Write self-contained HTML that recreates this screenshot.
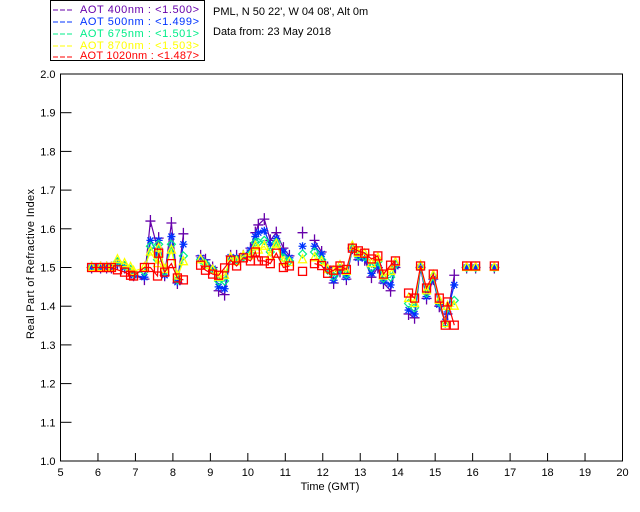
<!DOCTYPE html>
<html><head><meta charset="utf-8"><style>
body{margin:0;background:#fff;width:640px;height:512px;overflow:hidden}
svg{display:block;font-family:"Liberation Sans","DejaVu Sans",sans-serif}
</style></head><body>
<svg id="chart" width="640" height="512" viewBox="0 0 640 512" xmlns="http://www.w3.org/2000/svg">
<rect x="60.5" y="74" width="562" height="387" fill="none" stroke="#000" stroke-width="1"/>
<g id="axes" font-size="11"></g>
<text x="330" y="490" font-size="11" text-anchor="middle">Time (GMT)</text>
<text transform="translate(34,264) rotate(-90)" font-size="11" text-anchor="middle" textLength="150">Real Part of Refractive Index</text>
<g>
<rect x="50.5" y="0.5" width="154" height="60" fill="#fff" stroke="#000"/>
<g fill="#6600aa"><line x1="53" y1="10" x2="73" y2="10" stroke="#6600aa" stroke-dasharray="5,2"/><text x="80" y="13" font-size="11" textLength="119">AOT  400nm : &lt;1.500&gt;</text></g>
<g fill="#0033ff"><line x1="53" y1="22" x2="73" y2="22" stroke="#0033ff" stroke-dasharray="5,2"/><text x="80" y="25" font-size="11" textLength="119">AOT  500nm : &lt;1.499&gt;</text></g>
<g fill="#00ee88"><line x1="53" y1="34" x2="73" y2="34" stroke="#00ee88" stroke-dasharray="5,2"/><text x="80" y="37" font-size="11" textLength="119">AOT  675nm : &lt;1.501&gt;</text></g>
<g fill="#ffff00"><line x1="53" y1="46" x2="73" y2="46" stroke="#ffff00" stroke-dasharray="5,2"/><text x="80" y="49" font-size="11" textLength="119">AOT  870nm : &lt;1.503&gt;</text></g>
<g fill="#ff0000"><line x1="53" y1="57" x2="73" y2="57" stroke="#ff0000" stroke-dasharray="5,2"/><text x="80" y="59" font-size="11" textLength="119">AOT 1020nm : &lt;1.487&gt;</text></g>
</g>
<text x="213" y="15" font-size="11">PML, N 50 22', W 04 08', Alt 0m</text>
<text x="213" y="35" font-size="11">Data from: 23 May 2018</text>
<g id="series"></g>
</svg>
<script>
const times=[5.83,6.07,6.23,6.36,6.52,6.71,6.87,6.95,7.24,7.40,7.59,7.62,7.78,7.96,8.12,8.28,8.74,8.87,9.06,9.22,9.38,9.54,9.70,9.88,10.07,10.20,10.28,10.44,10.60,10.76,10.95,11.11,11.46,11.78,11.97,12.13,12.29,12.46,12.63,12.79,12.95,13.12,13.30,13.47,13.62,13.81,13.94,14.29,14.45,14.61,14.77,14.95,15.11,15.27,15.33,15.51,15.84,16.08,16.58];
const v400=[1.50,1.50,1.50,1.50,1.51,1.50,1.49,1.48,1.47,1.62,1.55,1.576,1.48,1.615,1.46,1.587,1.53,1.52,1.50,1.44,1.43,1.53,1.53,1.53,1.55,1.59,1.61,1.625,1.57,1.59,1.55,1.53,1.59,1.57,1.54,1.50,1.46,1.49,1.47,1.55,1.52,1.52,1.475,1.50,1.46,1.44,1.50,1.38,1.37,1.50,1.42,1.47,1.40,1.36,1.38,1.48,1.50,1.50,1.50];
const v500=[1.50,1.50,1.50,1.50,1.51,1.50,1.49,1.48,1.475,1.57,1.535,1.57,1.48,1.58,1.462,1.56,1.525,1.513,1.497,1.45,1.445,1.527,1.525,1.53,1.545,1.58,1.59,1.595,1.56,1.575,1.54,1.525,1.555,1.555,1.535,1.497,1.467,1.493,1.475,1.55,1.525,1.523,1.485,1.505,1.465,1.455,1.503,1.39,1.38,1.50,1.425,1.472,1.404,1.36,1.385,1.455,1.50,1.50,1.50];
const v675=[1.50,1.50,1.50,1.50,1.515,1.505,1.495,1.485,1.49,1.555,1.52,1.56,1.49,1.56,1.468,1.53,1.52,1.51,1.495,1.465,1.465,1.525,1.52,1.527,1.535,1.565,1.565,1.57,1.54,1.565,1.525,1.517,1.535,1.54,1.52,1.493,1.477,1.497,1.483,1.55,1.53,1.528,1.50,1.515,1.472,1.475,1.508,1.407,1.396,1.502,1.434,1.477,1.41,1.356,1.395,1.415,1.50,1.50,1.50];
const v870=[1.50,1.50,1.50,1.50,1.52,1.51,1.50,1.49,1.50,1.54,1.51,1.55,1.495,1.545,1.478,1.515,1.52,1.505,1.493,1.475,1.48,1.525,1.515,1.53,1.53,1.555,1.545,1.555,1.53,1.56,1.515,1.513,1.52,1.525,1.515,1.495,1.49,1.505,1.49,1.555,1.537,1.535,1.51,1.525,1.478,1.49,1.513,1.42,1.407,1.505,1.44,1.48,1.415,1.355,1.40,1.40,1.50,1.50,1.50];
const v1020=[1.50,1.50,1.50,1.50,1.494,1.488,1.48,1.478,1.50,1.50,1.478,1.537,1.488,1.51,1.473,1.468,1.506,1.493,1.483,1.48,1.499,1.519,1.504,1.525,1.517,1.54,1.517,1.517,1.51,1.537,1.50,1.504,1.49,1.51,1.505,1.485,1.493,1.504,1.495,1.55,1.543,1.537,1.522,1.53,1.483,1.506,1.517,1.434,1.421,1.504,1.447,1.483,1.421,1.351,1.411,1.351,1.504,1.504,1.504];
const breakBefore=[16,32,33,47,56,57,58];
const xTicks=[5,6,7,8,9,10,11,12,13,14,15,16,17,18,19,20];
const yTicks=[1.0,1.1,1.2,1.3,1.4,1.5,1.6,1.7,1.8,1.9,2.0];

const NS="http://www.w3.org/2000/svg";
const X0=60.5,X1=622.5,Y0=461,Y1=74;
function xs(t){return X0+(t-5)/15*(X1-X0);}
function ys(v){return Y0-(v-1)/1*(Y0-Y1);}
function mk(tag,attrs,parent){const e=document.createElementNS(NS,tag);for(const k in attrs)e.setAttribute(k,attrs[k]);parent.appendChild(e);return e;}
const axes=document.getElementById('axes');
xTicks.forEach(t=>{
  const l=mk('line',{x1:xs(t),x2:xs(t),y1:Y0,y2:Y0-8,stroke:'#000'},axes);
  
  
  const tx=mk('text',{x:xs(t),y:Y0+15,'text-anchor':'middle'},axes);
  tx.textContent=String(t);
  
  
});
yTicks.forEach(v=>{
  const l=mk('line',{x1:X0,x2:X0+11,y1:ys(v),y2:ys(v),stroke:'#000'},axes);
  
  
  const tx=mk('text',{x:X0-5,y:ys(v)+4,'text-anchor':'end'},axes);
  tx.textContent=v.toFixed(1);
  
  
});
const series=[
 {name:'aot-400',vals:v400,color:'#6600aa',m:'plus'},
 {name:'aot-500',vals:v500,color:'#0033ff',m:'star'},
 {name:'aot-675',vals:v675,color:'#00ee88',m:'diamond'},
 {name:'aot-870',vals:v870,color:'#ffff00',m:'triangle'},
 {name:'aot-1020',vals:v1020,color:'#ff0000',m:'square'}];
const layer=document.getElementById('series');
series.forEach(s=>{
  const g=mk('g',{},layer);
  
  
  let d='';
  times.forEach((t,i)=>{d+=((i===0||breakBefore.includes(i))?'M':'L')+xs(t).toFixed(1)+' '+ys(s.vals[i]).toFixed(1)+' ';});
  const p=mk('path',{d:d,fill:'none',stroke:s.color,'stroke-width':1.2},g);
  
  
  times.forEach((t,i)=>{
    const x=xs(t),y=ys(s.vals[i]);let e;
    if(s.m==='plus')e=mk('path',{d:`M${x-5} ${y}H${x+5}M${x} ${y-6}V${y+6}`,stroke:s.color,'stroke-width':1.3,fill:'none'},g);
    else if(s.m==='star')e=mk('path',{d:`M${x-4} ${y}H${x+4}M${x} ${y-4}V${y+4}M${x-3} ${y-3}L${x+3} ${y+3}M${x-3} ${y+3}L${x+3} ${y-3}`,stroke:s.color,'stroke-width':1.3,fill:'none'},g);
    else if(s.m==='diamond')e=mk('path',{d:`M${x} ${y-4}L${x+4} ${y}L${x} ${y+4}L${x-4} ${y}Z`,stroke:s.color,'stroke-width':1.2,fill:'none'},g);
    else if(s.m==='triangle')e=mk('path',{d:`M${x} ${y-5}L${x+4} ${y+3}L${x-4} ${y+3}Z`,stroke:s.color,'stroke-width':1.3,fill:'none'},g);
    else e=mk('rect',{x:x-4,y:y-4,width:8,height:8,stroke:s.color,'stroke-width':1.3,fill:'none'},g);
    
    
  });
});
</script>
</body></html>
